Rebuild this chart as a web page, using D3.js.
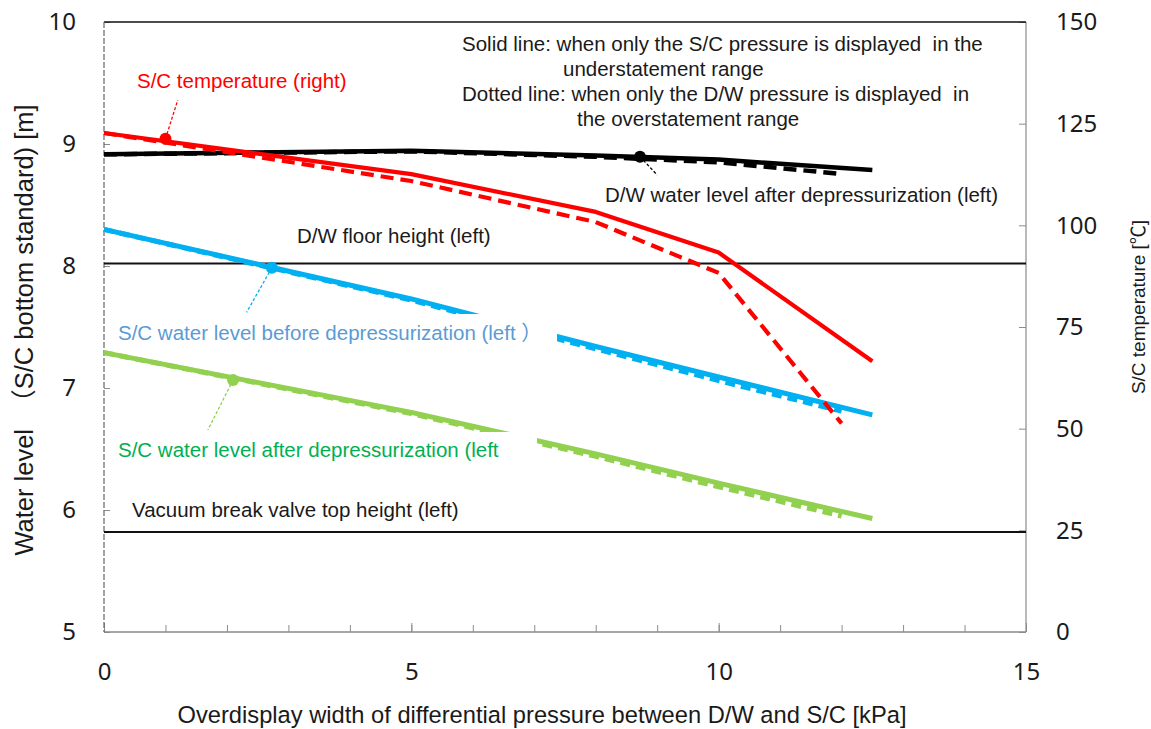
<!DOCTYPE html>
<html>
<head>
<meta charset="utf-8">
<script src="https://cdn.jsdelivr.net/npm/d3@7"></script>
<style>
  html, body { margin: 0; padding: 0; background: #fff; }
  svg { display: block; }
  .lbl { font-family: "Liberation Sans", Arial, "Noto Sans CJK JP", sans-serif; }
  .tick text { font-family: "Noto Sans", "Open Sans", sans-serif; }
</style>
</head>
<body>
<svg id="chart" width="1151" height="729"></svg>
<script>
// Differential pressure over-display width [kPa]
const pressureKPa       = [0, 5, 8, 10, 12.5];   // solid-line cases
const pressureKPaDotted = [0, 5, 8, 10, 12];     // dotted-line cases

// S/C temperature [°C] (right axis)
const scTempSolid  = [122.7, 112.6, 103.3, 93.3, 66.6];
const scTempDotted = [122.7, 110.9, 100.8, 88.3, 51.3];

// D/W water level after depressurization [m] (left axis)
const dwLevelSolid  = [8.915, 8.945, 8.905, 8.872, 8.787];
const dwLevelDotted = [8.915, 8.940, 8.895, 8.850, 8.754];

// S/C water level before depressurization [m]
const scBeforeSolid  = [8.30, 7.73, 7.34, 7.09, 6.78];
const scBeforeDotted = [8.30, 7.72, 7.32, 7.06, 6.81];

// S/C water level after depressurization [m]
const scAfterSolid  = [7.29, 6.80, 6.46, 6.22, 5.93];
const scAfterDotted = [7.29, 6.79, 6.44, 6.19, 5.95];

// Reference heights [m]
const dwFloorHeight     = 8.02;
const vacuumValveHeight = 5.82;

// Tick labels
const xTicks      = [0, 5, 10, 15];
const xMinorTicks = d3.range(0, 16, 1);
const leftTicks   = [5, 6, 7, 8, 9, 10];
const rightTicks  = [0, 25, 50, 75, 100, 125, 150];

// Marker points on each curve (x, value) and the end of each leader line
const tempMarker   = [1.0, 121.3],  tempLeaderEnd   = [1.2, 130.8];
const dwMarker     = [8.72, 8.896], dwLeaderEnd     = [9.0, 8.746];
const beforeMarker = [2.73, 7.985], beforeLeaderEnd = [2.32, 7.62];
const afterMarker  = [2.1, 7.066],  afterLeaderEnd  = [1.69, 6.656];

const svg = d3.select("#chart");
const plotL = 104, plotR = 1026, plotT = 22, plotB = 632;

const x  = d3.scaleLinear().domain([0, 15]).range([plotL, plotR]);
const yL = d3.scaleLinear().domain([5, 10]).range([plotB, plotT]);
const yR = d3.scaleLinear().domain([0, 150]).range([plotB, plotT]);

const RED = "#ff0000", BLUE = "#00b0f0", GREEN = "#92d050", BLACK = "#000000";

// ---- axes ----
const tickColor = "#8c8c8c";

const gx = svg.append("g").attr("transform", `translate(0,${plotB})`)
  .call(d3.axisBottom(x).tickValues(xMinorTicks).tickFormat("").tickSizeInner(-7).tickSizeOuter(0));
gx.select(".domain").remove();
gx.selectAll("line").attr("stroke", tickColor);

const gx2 = svg.append("g").attr("transform", `translate(0,${plotB})`)
  .call(d3.axisBottom(x).tickValues(xTicks).tickFormat(d3.format("d")).tickSizeInner(-9).tickSizeOuter(0).tickPadding(31));
gx2.select(".domain").remove();
gx2.selectAll("line").attr("stroke", tickColor);
gx2.selectAll("text").attr("font-size", 24).attr("fill", "#1a1a1a");

const gl = svg.append("g").attr("transform", `translate(${plotL},0)`)
  .call(d3.axisLeft(yL).tickValues(leftTicks).tickFormat(d3.format("d")).tickSizeInner(-6).tickSizeOuter(0).tickPadding(28));
gl.select(".domain").remove();
gl.selectAll("line").attr("stroke", tickColor);
gl.selectAll("text").attr("font-size", 24).attr("fill", "#1a1a1a");

const gr = svg.append("g").attr("transform", `translate(${plotR},0)`)
  .call(d3.axisRight(yR).tickValues(rightTicks).tickFormat(d3.format("d")).tickSizeInner(-7).tickSizeOuter(0).tickPadding(30));
gr.select(".domain").remove();
gr.selectAll("line").attr("stroke", tickColor);
gr.selectAll("text").attr("font-size", 24).attr("fill", "#1a1a1a");

// frame
svg.append("line").attr("x1", plotL).attr("x2", plotR).attr("y1", plotB).attr("y2", plotB)
  .attr("stroke", "#8a8a8a").attr("stroke-width", 1.5);
svg.append("line").attr("x1", plotR).attr("x2", plotR).attr("y1", plotT).attr("y2", plotB)
  .attr("stroke", "#8a8a8a").attr("stroke-width", 1.2);
svg.append("line").attr("x1", plotL).attr("x2", plotR).attr("y1", plotT).attr("y2", plotT)
  .attr("stroke", "#111").attr("stroke-width", 1.5);
svg.append("line").attr("x1", plotL).attr("x2", plotL).attr("y1", plotT).attr("y2", plotB)
  .attr("stroke", "#666").attr("stroke-width", 1.2).attr("stroke-dasharray", "6,2");

// ---- reference heights ----
[dwFloorHeight, vacuumValveHeight].forEach(h => {
  svg.append("line").attr("x1", plotL).attr("x2", plotR).attr("y1", yL(h)).attr("y2", yL(h))
    .attr("stroke", "#111").attr("stroke-width", 2);
});

// ---- curves ----
function curve(xs, ys, yScale, color, width, dash) {
  const pts = xs.map((v, i) => [v, ys[i]]);
  const line = d3.line().x(d => x(d[0])).y(d => yScale(d[1]));
  svg.append("path").datum(pts).attr("d", line)
    .attr("fill", "none").attr("stroke", color).attr("stroke-width", width)
    .attr("stroke-linejoin", "round")
    .attr("stroke-dasharray", dash || null);
}

curve(pressureKPaDotted, scAfterDotted, yL, GREEN, 5, "10,6");
curve(pressureKPa, scAfterSolid, yL, GREEN, 5);
curve(pressureKPaDotted, scBeforeDotted, yL, BLUE, 5, "10,6");
curve(pressureKPa, scBeforeSolid, yL, BLUE, 5);
curve(pressureKPaDotted, dwLevelDotted, yL, BLACK, 4.5, "13,7");
curve(pressureKPa, dwLevelSolid, yL, BLACK, 4.5);
curve(pressureKPaDotted, scTempDotted, yR, RED, 4.2, "13,7");
curve(pressureKPa, scTempSolid, yR, RED, 4.2);

// ---- markers and leader lines ----
function marker(pt, end, yScale, color) {
  svg.append("line")
    .attr("x1", x(pt[0])).attr("y1", yScale(pt[1]))
    .attr("x2", x(end[0])).attr("y2", yScale(end[1]))
    .attr("stroke", color).attr("stroke-width", 1.3).attr("stroke-dasharray", "3,2");
  svg.append("circle").attr("cx", x(pt[0])).attr("cy", yScale(pt[1])).attr("r", 6).attr("fill", color);
}
marker(tempMarker, tempLeaderEnd, yR, RED);
marker(dwMarker, dwLeaderEnd, yL, BLACK);
marker(beforeMarker, beforeLeaderEnd, yL, BLUE);
marker(afterMarker, afterLeaderEnd, yL, GREEN);

// ---- labels ----
const FS = 20.5;
function label(txt, px, py, color, box) {
  if (box) {
    svg.append("rect").attr("x", box[0]).attr("y", box[1]).attr("width", box[2]).attr("height", box[3]).attr("fill", "#fff");
  }
  return svg.append("text").attr("class", "lbl").attr("x", px).attr("y", py)
    .attr("font-size", FS).attr("fill", color).text(txt);
}

label("S/C temperature (right)", 137, 88, RED);
label("D/W floor height (left)", 297, 243, "#1a1a1a");
label("Vacuum break valve top height (left)", 132, 517, "#1a1a1a");
label("D/W water level after depressurization (left)", 605, 202, "#1a1a1a");
label("S/C water level before depressurization (left \uFF09", 118, 340, "#5b9bd5", [110, 314, 447, 36]);
label("S/C water level after depressurization (left", 118, 457, "#00b050", [110, 432, 427, 34]);

label("Solid line: when only the S/C pressure is displayed \u00a0in the", 462, 51, "#1a1a1a");
label("understatement range", 563, 76, "#1a1a1a");
label("Dotted line: when only the D/W pressure is displayed \u00a0in", 462, 101, "#1a1a1a");
label("the overstatement range", 577, 126, "#1a1a1a");

// ---- axis titles ----
svg.append("text").attr("class", "lbl")
  .attr("x", 542).attr("y", 723).attr("text-anchor", "middle")
  .attr("font-size", 23.7).attr("fill", "#1a1a1a")
  .text("Overdisplay width of differential pressure between D/W and S/C [kPa]");

svg.append("text").attr("class", "lbl")
  .attr("transform", "translate(33,330) rotate(-90)").attr("text-anchor", "middle")
  .attr("font-size", 25.5).attr("fill", "#1a1a1a")
  .text("Water level \u00a0\uFF08S/C bottom standard) [m]");

svg.append("text").attr("class", "lbl")
  .attr("transform", "translate(1145,307) rotate(-90)").attr("text-anchor", "middle")
  .attr("font-size", 19).attr("fill", "#1a1a1a")
  .text("S/C temperature [\u2103]");
</script>
</body>
</html>
